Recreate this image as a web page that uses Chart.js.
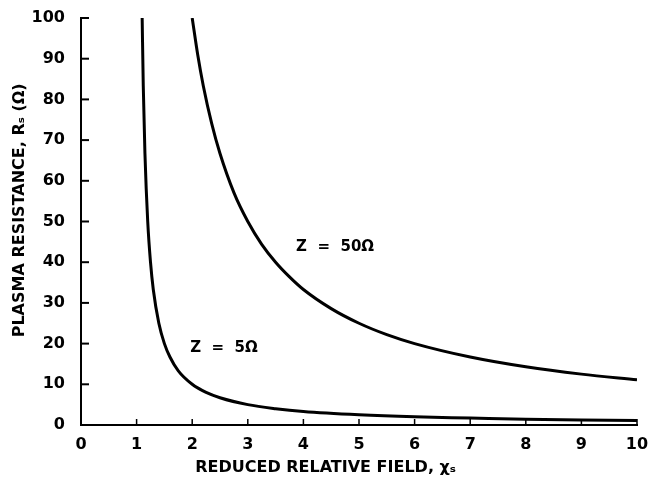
<!DOCTYPE html>
<html lang="en">
<head>
    <meta charset="UTF-8">
    <title>Plasma resistance vs reduced relative field</title>
    <script src="https://cdn.jsdelivr.net/npm/chart.js"></script>
    <style>
        html, body { margin: 0; padding: 0; background: #fff; }
        .chart-container { width: 655px; height: 489px; }
    </style>
</head>
<body>
    <div class="chart-container">
        <canvas id="myChart" width="655" height="489"></canvas>
    </div>

    <script>
        // Curve Z = 50 ohm
        const z50Field = [2.0, 2.1, 2.2, 2.35, 2.5, 2.75, 3.0, 3.25, 3.5, 3.75, 4.0, 4.5, 5.0, 5.5, 6.0, 7.0, 8.0, 9.0, 10.0];
        const z50Resistance = [100, 90.9, 83.3, 74.1, 66.7, 57.1, 50, 44.4, 40, 36.4, 33.3, 28.6, 25, 22.2, 20, 16.7, 14.3, 12.5, 11.1];

        // Curve Z = 5 ohm
        const z5Field = [1.1, 1.12, 1.15, 1.2, 1.25, 1.3, 1.4, 1.5, 1.6, 1.75, 2.0, 2.25, 2.5, 3.0, 3.5, 4.0, 5.0, 6.0, 7.0, 8.0, 9.0, 10.0];
        const z5Resistance = [100, 83.3, 66.7, 50, 40, 33.3, 25, 20, 16.7, 13.3, 10, 8, 6.7, 5, 4, 3.3, 2.5, 2, 1.7, 1.4, 1.25, 1.1];

        // Curve labels and where they sit (data units)
        const curveLabels = ['Z  =  50Ω', 'Z  =  5Ω'];
        const labelField = [4.57, 2.57];
        const labelResistance = [43.7, 18.9];

        const fontFamily = '"DejaVu Sans", "Liberation Sans", Arial, sans-serif';

        const toPoints = (xs, ys) => xs.map((x, i) => ({ x: x, y: ys[i] }));

        // inward tick marks + curve labels
        const paperPlugin = {
            id: 'paper',
            afterDraw(chart) {
                const ctx = chart.ctx;
                const area = chart.chartArea;
                const xs = chart.scales.x;
                const ys = chart.scales.y;
                ctx.save();
                ctx.strokeStyle = '#000';
                ctx.lineWidth = 2;
                ys.ticks.forEach(t => {
                    const py = ys.getPixelForValue(t.value);
                    ctx.beginPath();
                    ctx.moveTo(area.left, py);
                    ctx.lineTo(area.left + 8, py);
                    ctx.stroke();
                });
                ctx.lineWidth = 1.5;
                xs.ticks.forEach(t => {
                    const px = xs.getPixelForValue(t.value);
                    ctx.beginPath();
                    ctx.moveTo(px, area.bottom);
                    ctx.lineTo(px, area.bottom - 6);
                    ctx.stroke();
                });
                ctx.fillStyle = '#000';
                ctx.font = 'bold 15px ' + fontFamily;
                ctx.textAlign = 'center';
                ctx.textBaseline = 'middle';
                curveLabels.forEach((txt, i) => {
                    ctx.fillText(txt, xs.getPixelForValue(labelField[i]), ys.getPixelForValue(labelResistance[i]));
                });
                ctx.restore();
            }
        };

        const ctx = document.getElementById('myChart').getContext('2d');
        const myChart = new Chart(ctx, {
            type: 'scatter',
            data: {
                datasets: [
                    {
                        label: 'Z = 50Ω',
                        data: toPoints(z50Field, z50Resistance),
                        showLine: true,
                        borderColor: '#000',
                        borderWidth: 3,
                        pointRadius: 0,
                        cubicInterpolationMode: 'monotone'
                    },
                    {
                        label: 'Z = 5Ω',
                        data: toPoints(z5Field, z5Resistance),
                        showLine: true,
                        borderColor: '#000',
                        borderWidth: 3,
                        pointRadius: 0,
                        cubicInterpolationMode: 'monotone'
                    }
                ]
            },
            options: {
                responsive: false,
                animation: false,
                layout: { padding: { top: 18, right: 18, left: 0, bottom: 0 } },
                plugins: {
                    legend: { display: false },
                    tooltip: { enabled: false }
                },
                scales: {
                    x: {
                        type: 'linear',
                        min: 0,
                        max: 10,
                        grid: { display: false },
                        border: { display: true, color: '#000', width: 2 },
                        ticks: {
                            stepSize: 1,
                            maxRotation: 0,
                            padding: 2,
                            color: '#000',
                            font: { family: fontFamily, size: 16, weight: 'bold' }
                        },
                        title: {
                            display: true,
                            text: 'REDUCED RELATIVE FIELD, χₛ            ',
                            color: '#000',
                            padding: { top: 4, bottom: 12 },
                            font: { family: fontFamily, size: 16, weight: 'bold' }
                        },
                        afterFit(scale) { scale.height = 64; }
                    },
                    y: {
                        min: 0,
                        max: 100,
                        grid: { display: false },
                        border: { display: true, color: '#000', width: 2 },
                        ticks: {
                            stepSize: 10,
                            padding: 8,
                            color: '#000',
                            font: { family: fontFamily, size: 16, weight: 'bold' }
                        },
                        title: {
                            display: true,
                            text: '    PLASMA RESISTANCE, Rₛ (Ω)',
                            color: '#000',
                            padding: { top: 10, bottom: 4 },
                            font: { family: fontFamily, size: 16, weight: 'bold' }
                        },
                        afterFit(scale) { scale.width = 81; }
                    }
                }
            },
            plugins: [paperPlugin]
        });
    </script>
</body>
</html>
